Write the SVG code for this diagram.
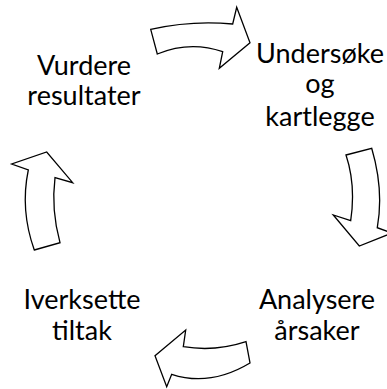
<svg xmlns="http://www.w3.org/2000/svg" width="387" height="389" viewBox="0 0 387 389">
<style>
.lbl{font-family:Lato,"Open Sans","Liberation Sans",sans-serif;font-size:27px;fill:#000;text-anchor:middle}
.arr{fill:#fff;stroke:#000;stroke-width:1.3;stroke-linejoin:miter}
</style>
<rect width="387" height="389" fill="#fff"/>
<g id="connectors">
<path id="arrow-top" class="arr" d="M150.7,29.3 Q192,20 232.7,24 L236.7,7.3 L250,42.7 L219.3,68.3 L222.7,51.7 Q190,40.5 157.3,54 Z"/>
<path id="arrow-right" class="arr" d="M346,155 L371.7,148.3 Q384,190 377.3,227.7 L392,233 L359.3,246 L333.3,215 L350.7,220.7 Q356,185 346,155 Z"/>
<path id="arrow-bottom" class="arr" d="M246,341.7 L250,363 Q210,387 171.7,374.3 L166.7,386.7 L155,355.7 L185.7,330 L183.3,346.7 Q215,352 246,341.7 Z"/>
<path id="arrow-left" class="arr" d="M34.3,250 L60,242.7 Q51,210 55,177.7 L72.7,182.7 L46.7,152 L11.7,164 L28.3,170 Q20,210 34.3,250 Z"/>
</g>
<g id="node-undersoke"><text class="lbl" x="320" y="63">Undersøke</text><text class="lbl" x="320" y="93">og</text><text class="lbl" x="320" y="126">kartlegge</text></g>
<g id="node-vurdere"><text class="lbl" x="84" y="75">Vurdere</text><text class="lbl" x="84" y="105">resultater</text></g>
<g id="node-iverksette"><text class="lbl" x="82" y="309">Iverksette</text><text class="lbl" x="82" y="340">tiltak</text></g>
<g id="node-analysere"><text class="lbl" x="317" y="309">Analysere</text><text class="lbl" x="317" y="340">årsaker</text></g>
</svg>
